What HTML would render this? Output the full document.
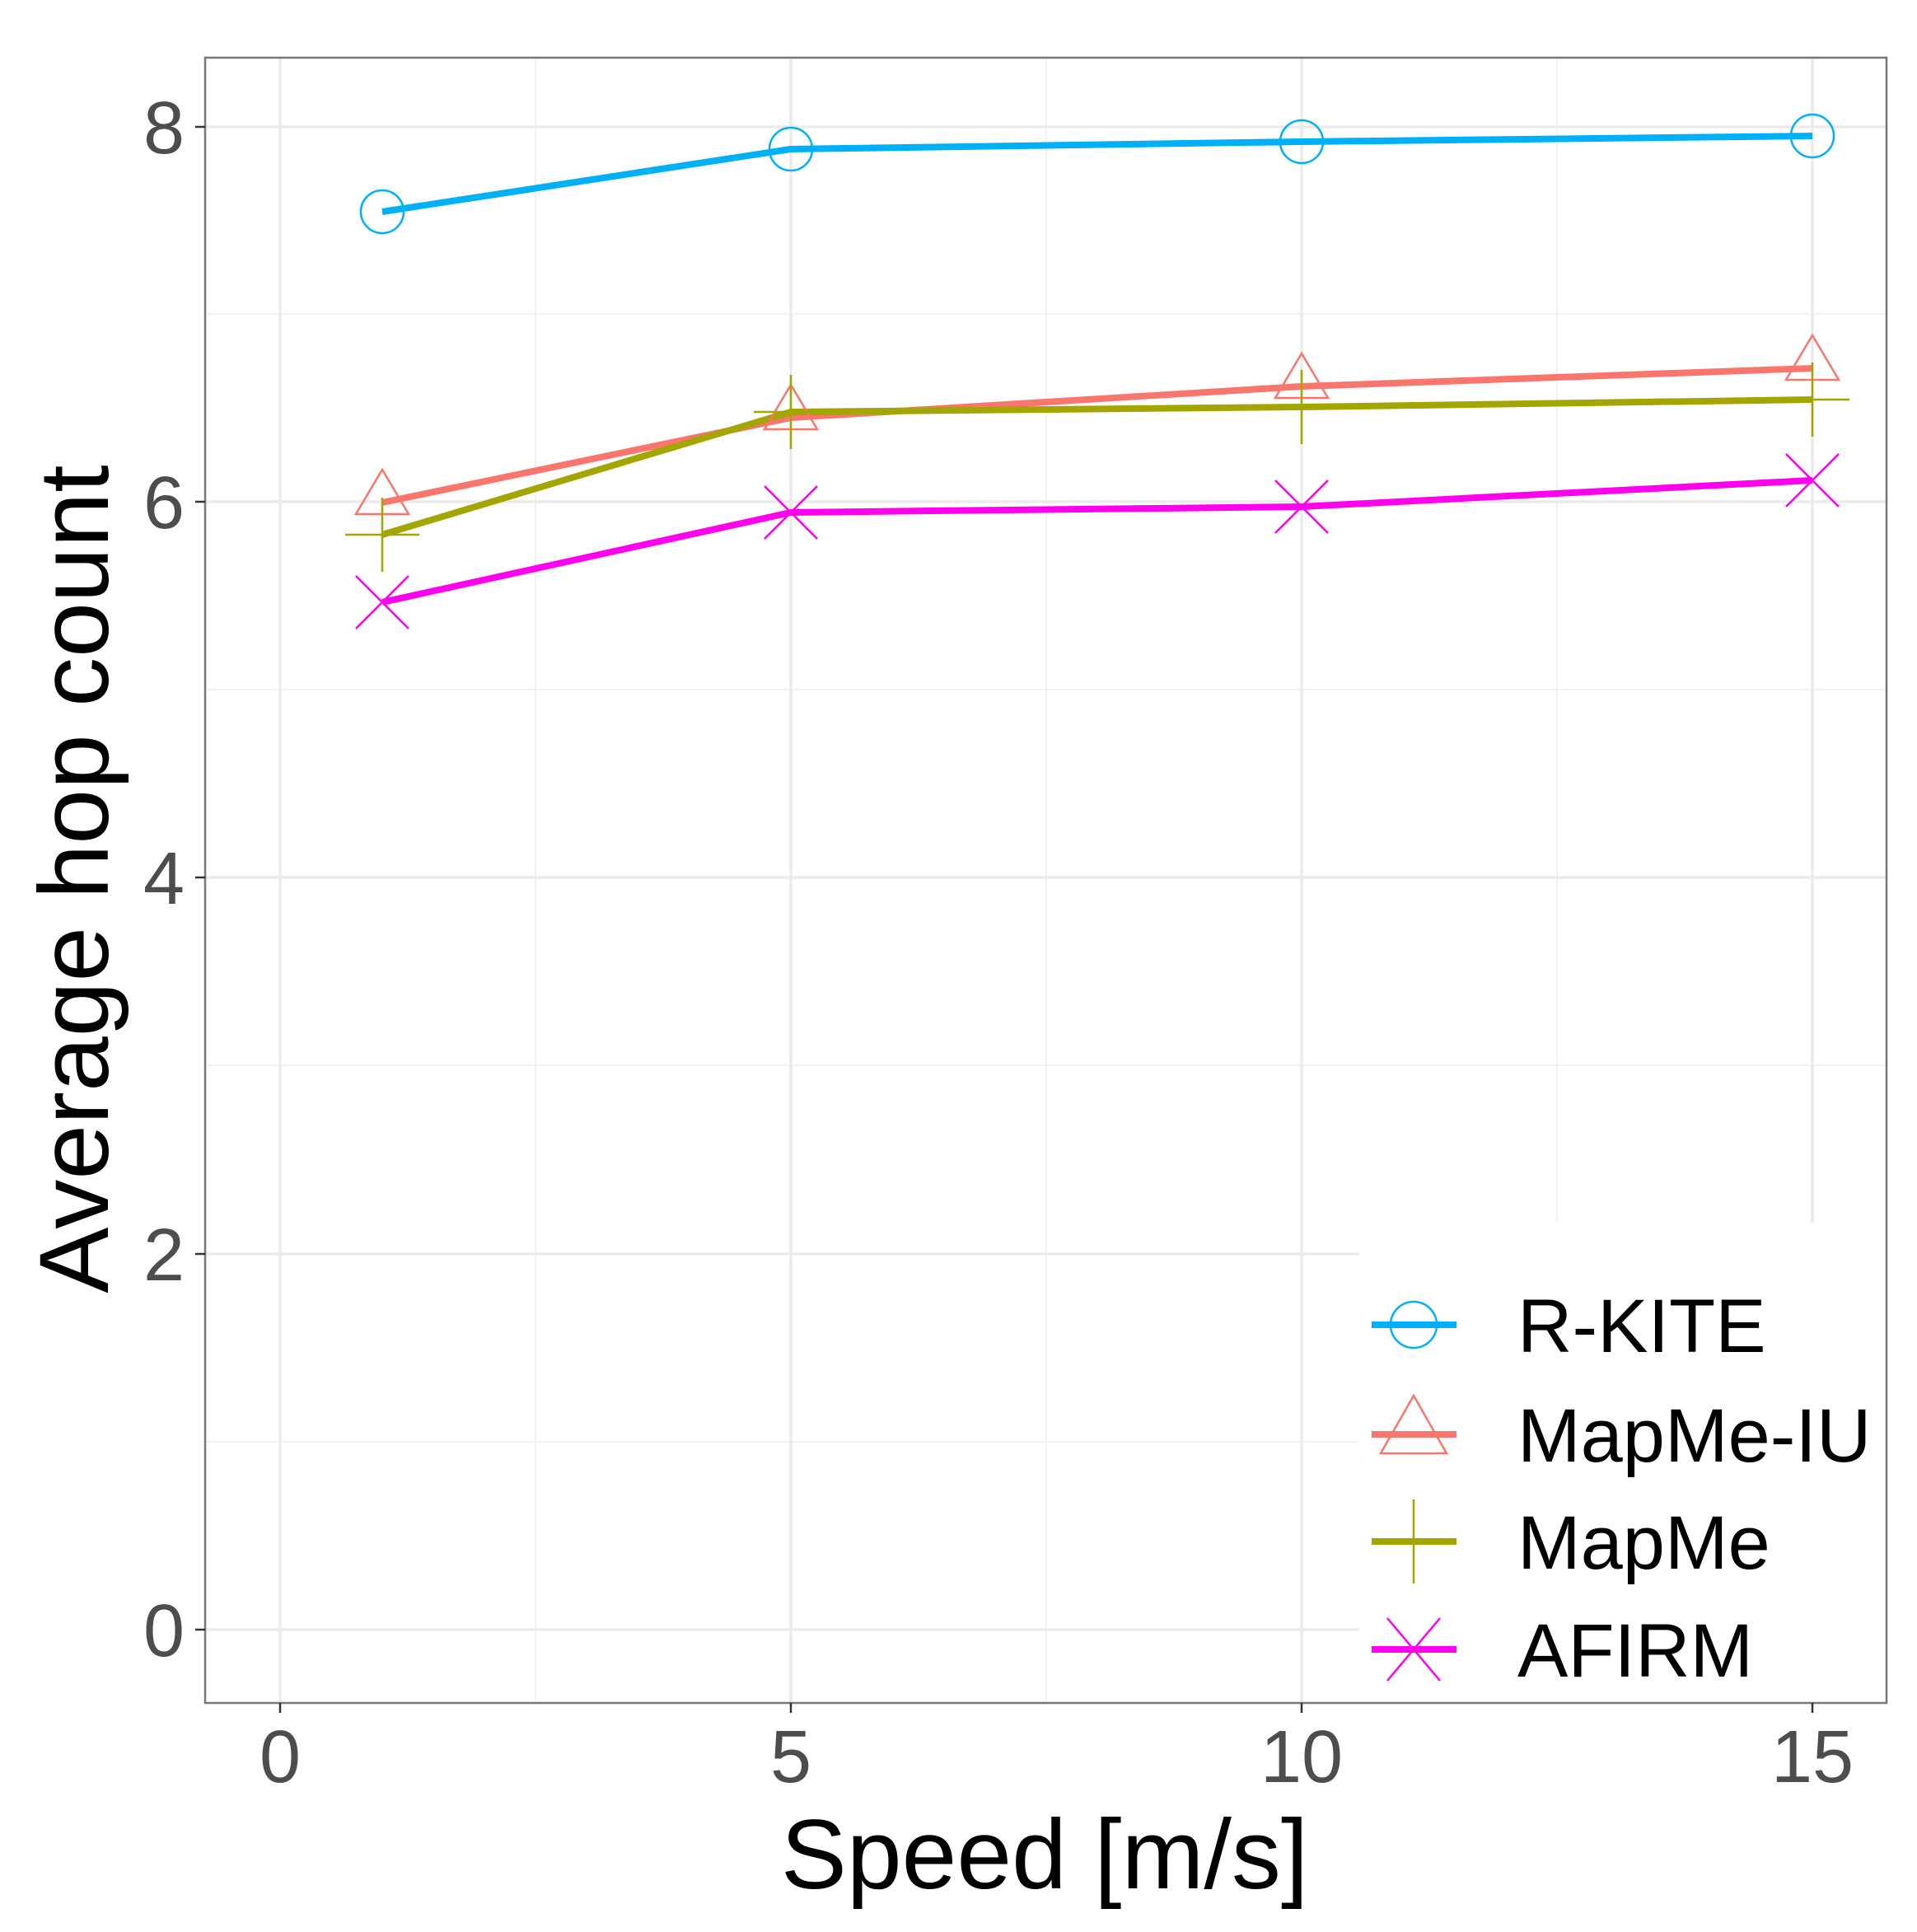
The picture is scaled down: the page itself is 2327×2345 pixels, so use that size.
<!DOCTYPE html>
<html><head><meta charset="utf-8"><style>html,body{margin:0;padding:0;background:#fff}</style></head>
<body>
<svg width="2327" height="2340" xmlns="http://www.w3.org/2000/svg" font-family="Liberation Sans, sans-serif">
<rect width="2327" height="2340" fill="#fff"/>
<g stroke="#f2f2f2" stroke-width="2">
<line x1="650" y1="70" x2="650" y2="2067"/><line x1="1270" y1="70" x2="1270" y2="2067"/><line x1="1890" y1="70" x2="1890" y2="2067"/>
<line x1="249" y1="1750" x2="2290" y2="1750"/><line x1="249" y1="1293" x2="2290" y2="1293"/><line x1="249" y1="837" x2="2290" y2="837"/><line x1="249" y1="381" x2="2290" y2="381"/>
</g>
<g stroke="#ebebeb" stroke-width="3.5">
<line x1="340" y1="70" x2="340" y2="2067"/><line x1="960" y1="70" x2="960" y2="2067"/><line x1="1580" y1="70" x2="1580" y2="2067"/><line x1="2200" y1="70" x2="2200" y2="2067"/>
<line x1="249" y1="1978" x2="2290" y2="1978"/><line x1="249" y1="1522" x2="2290" y2="1522"/><line x1="249" y1="1065" x2="2290" y2="1065"/><line x1="249" y1="609" x2="2290" y2="609"/><line x1="249" y1="154" x2="2290" y2="154"/>
</g>
<g fill="none" stroke-width="8" stroke-linejoin="round">
<polyline stroke="#00b0f6" points="464,257 960,181 1580,172 2200,165"/>
<polyline stroke="#f8766d" points="464,610 960,507 1580,469 2200,447"/>
<polyline stroke="#a3a500" points="464,649 960,500 1580,494 2200,485"/>
<polyline stroke="#ff00ee" points="464,731 960,622 1580,615 2200,583"/>
</g>
<g fill="none" stroke-width="2.5">
<g stroke="#00b0f6"><circle cx="464" cy="257" r="26"/><circle cx="960" cy="181" r="26"/><circle cx="1580" cy="172" r="26"/><circle cx="2200" cy="165" r="26"/></g>
<g stroke="#f8766d"><path d="M464,570 l-32,54 h64 z M960,467 l-32,54 h64 z M1580,429 l-32,54 h64 z M2200,407 l-32,54 h64 z"/></g>
<g stroke="#a3a500"><path d="M419,649 h90 M464,604 v90 M915,500 h90 M960,455 v90 M1535,494 h90 M1580,449 v90 M2155,485 h90 M2200,440 v90"/></g>
<g stroke="#ff00ee"><path d="M432,699 l64,64 M496,699 l-64,64 M928,590 l64,64 M992,590 l-64,64 M1548,583 l64,64 M1612,583 l-64,64 M2168,551 l64,64 M2232,551 l-64,64"/></g>
</g>
<rect x="1650" y="1484" width="640" height="583" fill="#fff"/>
<rect x="249" y="70" width="2041" height="1997" fill="none" stroke="#777" stroke-width="2.5"/>
<g stroke-width="8">
<line x1="1665" y1="1608" x2="1768" y2="1608" stroke="#00b0f6"/>
<line x1="1665" y1="1741" x2="1768" y2="1741" stroke="#f8766d"/>
<line x1="1665" y1="1871" x2="1768" y2="1871" stroke="#a3a500"/>
<line x1="1665" y1="2002" x2="1768" y2="2002" stroke="#ff00ee"/>
</g>
<g fill="none" stroke-width="2.5">
<circle cx="1716" cy="1608" r="28" stroke="#00b0f6"/>
<path d="M1716,1694 l-40,70 h80 z" stroke="#f8766d"/>
<path d="M1716,1820 v102" stroke="#a3a500"/>
<path d="M1684,1964 l64,76 M1748,1964 l-64,76" stroke="#ff00ee"/>
</g>
<g font-size="92" fill="#000">
<text x="1842" y="1641">R-KITE</text>
<text x="1842" y="1774">MapMe-IU</text>
<text x="1842" y="1904">MapMe</text>
<text x="1842" y="2035">AFIRM</text>
</g>
<g stroke="#333" stroke-width="2.5">
<line x1="237" y1="154" x2="249" y2="154"/><line x1="237" y1="609" x2="249" y2="609"/><line x1="237" y1="1065" x2="249" y2="1065"/><line x1="237" y1="1522" x2="249" y2="1522"/><line x1="237" y1="1978" x2="249" y2="1978"/>
<line x1="340" y1="2067" x2="340" y2="2079"/><line x1="960" y1="2067" x2="960" y2="2079"/><line x1="1580" y1="2067" x2="1580" y2="2079"/><line x1="2200" y1="2067" x2="2200" y2="2079"/>
</g>
<g font-size="90" fill="#4d4d4d" text-anchor="end">
<text x="224" y="186">8</text><text x="224" y="641">6</text><text x="224" y="1097">4</text><text x="224" y="1554">2</text><text x="224" y="2010">0</text>
</g>
<g font-size="90" fill="#4d4d4d" text-anchor="middle">
<text x="340" y="2163">0</text><text x="960" y="2163">5</text><text x="1580" y="2163">10</text><text x="2200" y="2163">15</text>
</g>
<text x="1268" y="2292" font-size="120" text-anchor="middle" fill="#000">Speed [m/s]</text>
<text transform="translate(131,1067) rotate(-90)" font-size="120" text-anchor="middle" fill="#000">Average hop count</text>
</svg>
</body></html>
